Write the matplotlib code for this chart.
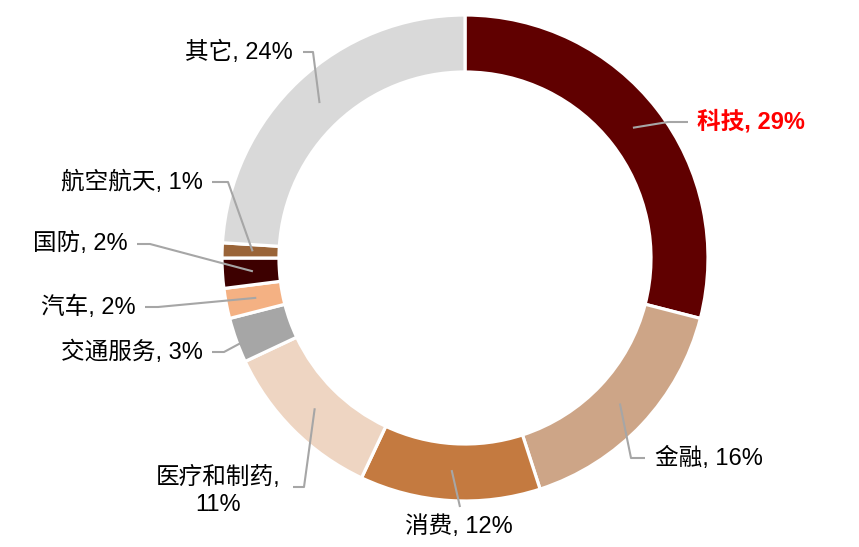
import numpy as np
import matplotlib
matplotlib.use("Agg")
import matplotlib.pyplot as plt

# sector shares, clockwise from 12 o'clock
sectors = ["科技", "金融", "消费", "医疗和制药", "交通服务", "汽车", "国防", "航空航天", "其它"]
shares = [29, 16, 12, 11, 3, 2, 2, 1, 24]
colors = ["#600000", "#CDA587", "#C47A40", "#EED5C2", "#A6A6A6",
          "#F4B183", "#3D0000", "#9A6438", "#D9D9D9"]

# layout in pixel units (y measured from the top of the image)
W, H = 859, 547
cx, cy, R = 465, 258, 243
ring = 57
# text anchor x, y, horizontal alignment, elbow point (x, y), line end x
label_layout = {
    "科技":     (697, 122, "left",   (668, 122), 688),
    "金融":     (655, 458, "left",   (631, 458), 645),
    "消费":     (459, 527, "center", (460, 507), None),
    "医疗和制药": (218, 491, "center", (304, 487), 293),
    "交通服务":  (203, 352, "right",  (224, 352), 212),
    "汽车":     (136, 307, "right",  (158, 307), 145),
    "国防":     (128, 244, "right",  (150, 244), 137),
    "航空航天":  (203, 182, "right",  (228, 182), 212),
    "其它":     (293, 52,  "right",  (313, 52), 303),
}

font = ["Liberation Sans", "Noto Sans CJK SC"]

fig = plt.figure(figsize=(W / 100, H / 100), dpi=100)
ax = fig.add_axes([0, 0, 1, 1])

wedges, _ = ax.pie(shares, colors=colors, startangle=90, counterclock=False,
                   radius=R, center=(cx, H - cy),
                   wedgeprops=dict(width=ring, edgecolor="white", linewidth=2.3))

for w, name, val in zip(wedges, sectors, shares):
    ang = np.deg2rad((w.theta1 + w.theta2) / 2)
    r_mid = R - ring / 2 - 2
    px = cx + r_mid * np.cos(ang)
    py = (H - cy) + r_mid * np.sin(ang)
    tx, ty, ha, elbow, endx = label_layout[name]
    xs = [px, elbow[0]]
    ys = [py, H - elbow[1]]
    if endx is not None:
        xs.append(endx)
        ys.append(H - elbow[1])
    ax.plot(xs, ys, color="#A6A6A6", lw=1.5, solid_capstyle="butt")
    if name == "医疗和制药":
        txt = f"{name},\n{val}%"
    else:
        txt = f"{name}, {val}%"
    if name == "科技":
        ax.text(tx, H - ty, txt, ha=ha, va="center", fontsize=17, color="#FF0000",
                fontweight="bold", family=font)
    else:
        ax.text(tx, H - ty, txt, ha=ha, va="center", fontsize=17, color="black",
                family=font, linespacing=1.3, multialignment="center")

ax.set_xlim(0, W)
ax.set_ylim(0, H)
ax.set_aspect("equal")
ax.axis("off")
fig.savefig("out.png", dpi=100)
